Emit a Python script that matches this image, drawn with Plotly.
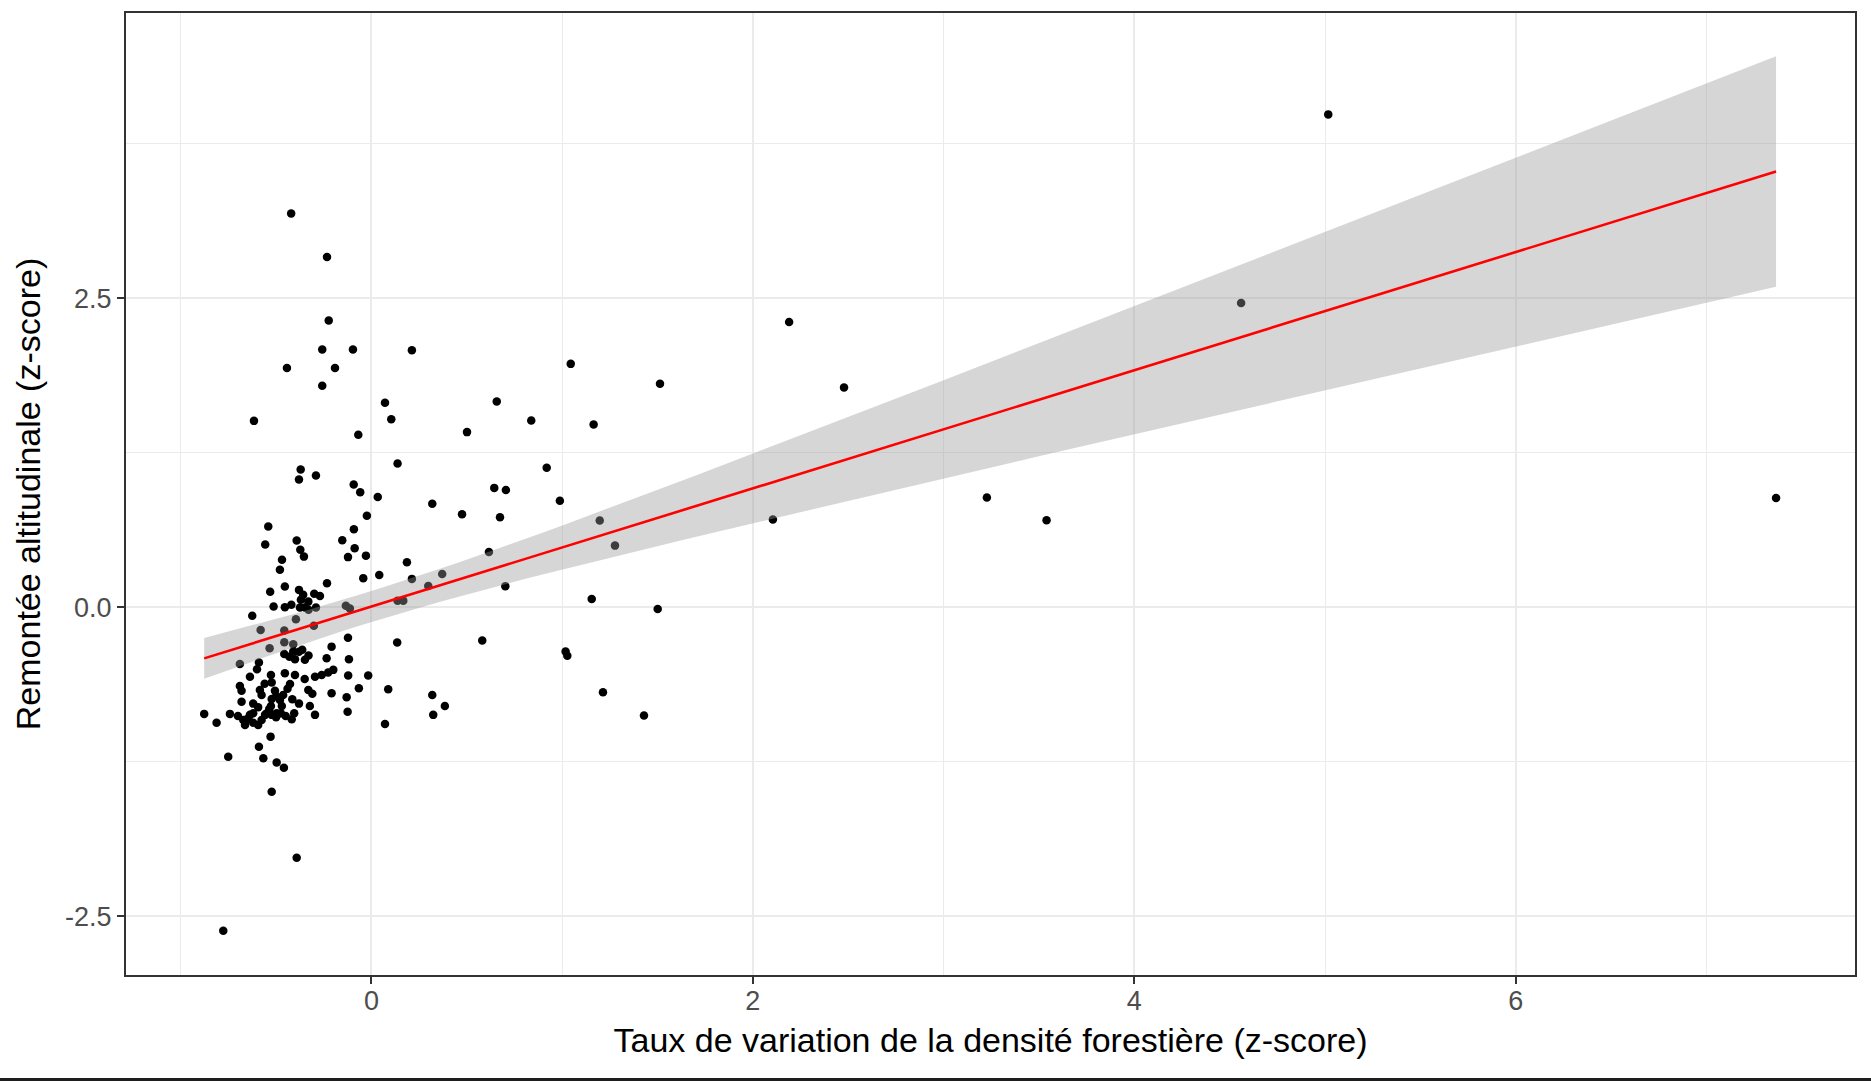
import numpy as np
import plotly.graph_objects as go

# ---- data ----
forest_change = [
    -0.421, -0.233, -0.224, -0.258, -0.097, 0.212, -0.443, -0.191, -0.258, 0.071,
    0.104, -0.616, -0.069, 0.501, 0.137, -0.371, -0.380, -0.291, -0.093, -0.059,
    0.033, 0.319, 1.045, 1.513, 0.657, 0.838, 1.165, 2.478, 0.919, 0.644,
    0.705, 0.988, 0.475, 0.674, 1.197, 1.277, 2.105, 0.616, 0.702, 1.155,
    1.501, 0.581, 1.018, 1.027, 1.214, 1.429, 5.017, 4.560, 7.365, 3.227,
    3.540, 2.190, -0.541, -0.557, -0.392, -0.373, -0.354, -0.469, -0.480, -0.024,
    -0.092, -0.153, -0.088, -0.123, -0.029, 0.186, 0.041, -0.043, 0.212, 0.371,
    -0.233, -0.531, -0.454, -0.380, -0.358, -0.300, -0.270, -0.513, -0.454, -0.375,
    -0.349, -0.291, -0.331, 0.298, -0.134, -0.113, 0.137, 0.167, -0.625, -0.396,
    -0.581, -0.457, -0.302, -0.457, -0.534, -0.123, 0.135, -0.209, -0.235, -0.118,
    -0.457, -0.410, -0.363, -0.349, -0.401, -0.690, -0.590, -0.600, -0.637, -0.527,
    -0.454, -0.401, -0.296, -0.261, -0.227, -0.200, -0.122, -0.017, -0.690, -0.681,
    -0.523, -0.585, -0.576, -0.506, -0.463, -0.427, -0.331, -0.415, -0.209, -0.130,
    -0.066, 0.088, -0.681, -0.594, -0.527, -0.497, -0.475, -0.323, -0.296, -0.405,
    -0.418, -0.877, -0.742, -0.812, -0.672, -0.663, -0.637, -0.620, -0.594, -0.576,
    -0.558, -0.523, -0.620, -0.646, -0.125, 0.071, -0.529, -0.590, -0.751, -0.567,
    -0.497, -0.459, 0.319, 0.385, 0.324, -0.523, -0.392, -0.777, -0.536, -0.480,
    -0.523,
    # overlapping points hidden inside the dense cluster
    -0.700, -0.660, -0.550, -0.500, -0.450,
    -0.560, -0.500, -0.440, -0.380, -0.350, -0.310, -0.470, -0.620,
    -0.430, -0.380, -0.330, -0.410, -0.420, -0.330, -0.370,
]
altitude_shift = [
    3.185, 2.832, 2.319, 2.084, 2.084, 2.079, 1.934, 1.934, 1.791, 1.653,
    1.521, 1.507, 1.394, 1.416, 1.162, 1.113, 1.032, 1.065, 0.992, 0.930,
    0.892, 0.836, 1.968, 1.807, 1.664, 1.510, 1.477, 1.777, 1.127, 0.965,
    0.947, 0.860, 0.752, 0.728, 0.701, 0.498, 0.709, 0.447, 0.170, 0.067,
    -0.014, -0.270, -0.359, -0.392, -0.688, -0.877, 3.986, 2.460, 0.884, 0.887,
    0.704, 2.306, 0.652, 0.507, 0.539, 0.464, 0.409, 0.383, 0.302, 0.739,
    0.631, 0.542, 0.477, 0.405, 0.417, 0.364, 0.261, 0.235, 0.229, 0.269,
    0.194, 0.124, 0.167, 0.140, 0.100, 0.108, 0.091, 0.006, 0.000, -0.002,
    -0.003, -0.002, 0.045, 0.172, 0.011, -0.010, 0.053, 0.053, -0.070, -0.097,
    -0.184, -0.189, -0.151, -0.283, -0.332, -0.248, -0.286, -0.319, -0.413, -0.421,
    -0.378, -0.359, -0.345, -0.426, -0.421, -0.459, -0.448, -0.502, -0.562, -0.548,
    -0.534, -0.548, -0.562, -0.548, -0.529, -0.507, -0.553, -0.553, -0.637, -0.675,
    -0.610, -0.669, -0.710, -0.675, -0.710, -0.621, -0.669, -0.744, -0.696, -0.728,
    -0.655, -0.663, -0.764, -0.809, -0.799, -0.858, -0.858, -0.799, -0.871, -0.858,
    -0.906, -0.863, -0.863, -0.934, -0.912, -0.952, -0.871, -0.934, -0.952, -0.912,
    -0.871, -0.871, -0.858, -0.898, -0.845, -0.944, -1.047, -1.128, -1.209, -1.222,
    -1.257, -1.298, -0.710, -0.799, -0.871, -1.492, -2.026, -2.617, -0.823, -0.750,
    -0.742,
    # overlapping points hidden inside the dense cluster
    -0.880, -0.920, -0.860, -0.890, -0.880,
    -0.620, -0.720, -0.660, -0.780, -0.580, -0.700, -0.800, -0.780,
    -0.400, -0.360, -0.390, -0.300, 0.020, -0.020, 0.060,
]
x_tick_vals = [0, 2, 4, 6]
x_tick_text = ["0", "2", "4", "6"]
y_tick_vals = [-2.5, 0.0, 2.5]
y_tick_text = ["-2.5", "0.0", "2.5"]
x_title = "Taux de variation de la densité forestière (z-score)"
y_title = "Remontée altitudinale (z-score)"
t_crit = 1.972  # 95% Student t quantile for the lm confidence band

# ---- linear fit with 95% confidence band (as geom_smooth(method="lm")) ----
x = np.asarray(forest_change)
y = np.asarray(altitude_shift)
n = len(x)
slope, intercept = np.polyfit(x, y, 1)
resid = y - (intercept + slope * x)
s = np.sqrt(np.sum(resid ** 2) / (n - 2))
xm = x.mean()
sxx = np.sum((x - xm) ** 2)
xg = np.linspace(x.min(), x.max(), 80)
yg = intercept + slope * xg
half = t_crit * s * np.sqrt(1.0 / n + (xg - xm) ** 2 / sxx)

fig = go.Figure()
fig.add_trace(go.Scatter(
    x=x, y=y, mode="markers",
    marker=dict(color="black", size=8.5, line=dict(width=0)),
    hoverinfo="skip", showlegend=False))
fig.add_trace(go.Scatter(
    x=np.concatenate([xg, xg[::-1]]),
    y=np.concatenate([yg + half, (yg - half)[::-1]]),
    fill="toself", fillcolor="rgba(153,153,153,0.4)",
    line=dict(width=0), mode="lines", hoverinfo="skip", showlegend=False))
fig.add_trace(go.Scatter(
    x=xg, y=yg, mode="lines", line=dict(color="#FF0000", width=2.6),
    hoverinfo="skip", showlegend=False))

W, H = 1871, 1081
ml, mr, mt, mb = 126, 16, 13, 106
axis_common = dict(
    showline=True, mirror=True, linecolor="#333333", linewidth=2,
    ticks="outside", ticklen=7, tickwidth=2, tickcolor="#333333",
    showgrid=True, gridcolor="#EBEBEB", gridwidth=2, zeroline=False,
    tickfont=dict(family="Liberation Sans, Arial, sans-serif", size=27, color="#4D4D4D"),
    automargin=False,
)
fig.update_layout(
    width=W, height=H,
    margin=dict(l=ml, r=mr, t=mt, b=mb),
    paper_bgcolor="white", plot_bgcolor="white",
    font=dict(family="Liberation Sans, Arial, sans-serif", color="black"),
    xaxis=dict(
        range=[-1.287, 7.779], tickvals=x_tick_vals, ticktext=x_tick_text,
        ticklabelstandoff=-6,
        minor=dict(tickvals=[-1, 1, 3, 5, 7], showgrid=True, gridcolor="#EBEBEB",
                   gridwidth=1, ticks=""),
        title=dict(text=x_title, font=dict(size=34, color="black"), standoff=13),
        **axis_common),
    yaxis=dict(
        range=[-2.975, 4.806], tickvals=y_tick_vals, ticktext=y_tick_text,
        minor=dict(tickvals=[-1.25, 1.25, 3.75], showgrid=True, gridcolor="#EBEBEB",
                   gridwidth=1, ticks=""),
        title=dict(text=y_title, font=dict(size=34, color="black"), standoff=14),
        **axis_common),
    shapes=[dict(type="rect", xref="paper", yref="paper",
                 x0=-ml / (W - ml - mr), x1=(W - ml) / (W - ml - mr),
                 y0=-(1078 - (H - mb)) / (H - mt - mb), y1=-(1090 - (H - mb)) / (H - mt - mb),
                 fillcolor="#1E1E1E", line=dict(width=0), layer="above")],
)

fig.write_html("out.html")
